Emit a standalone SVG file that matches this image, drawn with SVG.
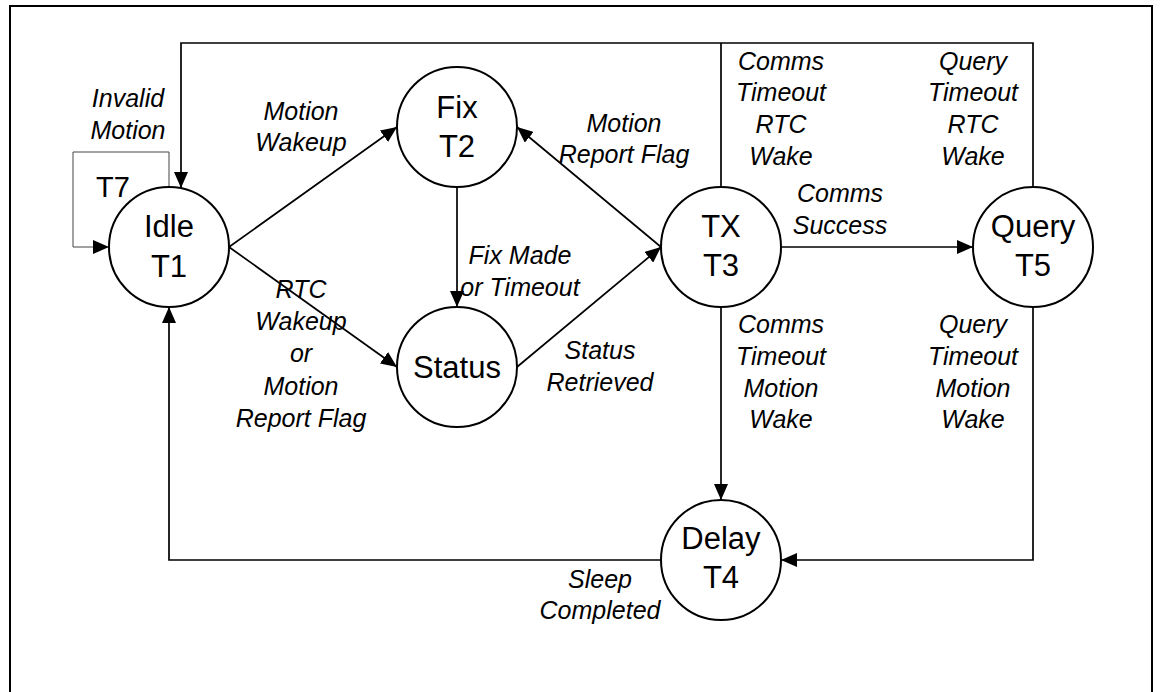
<svg xmlns="http://www.w3.org/2000/svg" width="1163" height="692" viewBox="0 0 1163 692">
<style>
.frame{fill:none;stroke:#000;stroke-width:2}
.node circle{fill:#fff;stroke:#000;stroke-width:2}
.node text{font-family:"Liberation Sans",Arial,sans-serif;font-size:31px;text-anchor:middle;fill:#000}
.edge{fill:none;stroke:#000;stroke-width:1.7}
.thin{fill:none;stroke:#444;stroke-width:1}
.lbl{font-family:"Liberation Sans",Arial,sans-serif;font-size:25px;font-style:italic;text-anchor:middle;fill:#000}
.t7{font-family:"Liberation Sans",Arial,sans-serif;font-size:29px;text-anchor:middle;fill:#000}
</style>
<defs>
<marker id="ah" markerUnits="userSpaceOnUse" markerWidth="16" markerHeight="14" refX="16" refY="7" orient="auto"><path d="M0,0 L16,7 L0,14 z" fill="#000"/></marker>
</defs>
<rect width="1163" height="692" fill="#fff"/>
<path class="frame" d="M10,692 V6 H1152 V692"/>
<g id="connectors">
<path class="edge" d="M1033,187 V43 H181 V188" marker-end="url(#ah)"/>
<path class="edge" d="M721,187 V43"/>
<path class="thin" d="M169,187 V152 H73 V247 H109" marker-end="url(#ah)"/>
<path class="edge" d="M229,247 L397,127" marker-end="url(#ah)"/>
<path class="edge" d="M229,247 L397,367" marker-end="url(#ah)"/>
<path class="edge" d="M457,187 V307" marker-end="url(#ah)"/>
<path class="edge" d="M517,367 L661,247" marker-end="url(#ah)"/>
<path class="edge" d="M661,247 L517,127" marker-end="url(#ah)"/>
<path class="edge" d="M781,247 H973" marker-end="url(#ah)"/>
<path class="edge" d="M721,307 V500" marker-end="url(#ah)"/>
<path class="edge" d="M1033,307 V560 H781" marker-end="url(#ah)"/>
<path class="edge" d="M661,560 H169 V307" marker-end="url(#ah)"/>
</g>
<g id="idle" class="node"><circle cx="169" cy="247" r="60"/><text x="169" y="237">Idle</text><text x="169" y="277">T1</text></g>
<g id="fix" class="node"><circle cx="457" cy="127" r="60"/><text x="457" y="118">Fix</text><text x="457" y="157">T2</text></g>
<g id="status" class="node"><circle cx="457" cy="367" r="60"/><text x="457" y="378">Status</text></g>
<g id="tx" class="node"><circle cx="721" cy="247" r="60"/><text x="721" y="237">TX</text><text x="721" y="276">T3</text></g>
<g id="query" class="node"><circle cx="1033" cy="247" r="60"/><text x="1033" y="237">Query</text><text x="1033" y="276">T5</text></g>
<g id="delay" class="node"><circle cx="721" cy="560" r="60"/><text x="721" y="549">Delay</text><text x="721" y="588">T4</text></g>
<g id="labels">
<text class="t7" x="113" y="197">T7</text>
<text class="lbl" x="128" y="107">Invalid</text>
<text class="lbl" x="128" y="139">Motion</text>
<text class="lbl" x="301" y="120">Motion</text>
<text class="lbl" x="301" y="151">Wakeup</text>
<text class="lbl" x="624" y="132">Motion</text>
<text class="lbl" x="624" y="163">Report Flag</text>
<text class="lbl" x="520" y="264">Fix Made</text>
<text class="lbl" x="520" y="296">or Timeout</text>
<text class="lbl" x="301" y="298">RTC</text>
<text class="lbl" x="301" y="330">Wakeup</text>
<text class="lbl" x="301" y="362">or</text>
<text class="lbl" x="301" y="395">Motion</text>
<text class="lbl" x="301" y="427">Report Flag</text>
<text class="lbl" x="600" y="359">Status</text>
<text class="lbl" x="600" y="391">Retrieved</text>
<text class="lbl" x="781" y="70">Comms</text>
<text class="lbl" x="781" y="101">Timeout</text>
<text class="lbl" x="781" y="133">RTC</text>
<text class="lbl" x="781" y="165">Wake</text>
<text class="lbl" x="973" y="70">Query</text>
<text class="lbl" x="973" y="101">Timeout</text>
<text class="lbl" x="973" y="133">RTC</text>
<text class="lbl" x="973" y="165">Wake</text>
<text class="lbl" x="840" y="202">Comms</text>
<text class="lbl" x="840" y="234">Success</text>
<text class="lbl" x="781" y="333">Comms</text>
<text class="lbl" x="781" y="365">Timeout</text>
<text class="lbl" x="781" y="397">Motion</text>
<text class="lbl" x="781" y="428">Wake</text>
<text class="lbl" x="973" y="333">Query</text>
<text class="lbl" x="973" y="365">Timeout</text>
<text class="lbl" x="973" y="397">Motion</text>
<text class="lbl" x="973" y="428">Wake</text>
<text class="lbl" x="600" y="588">Sleep</text>
<text class="lbl" x="600" y="619">Completed</text>
</g>
</svg>
